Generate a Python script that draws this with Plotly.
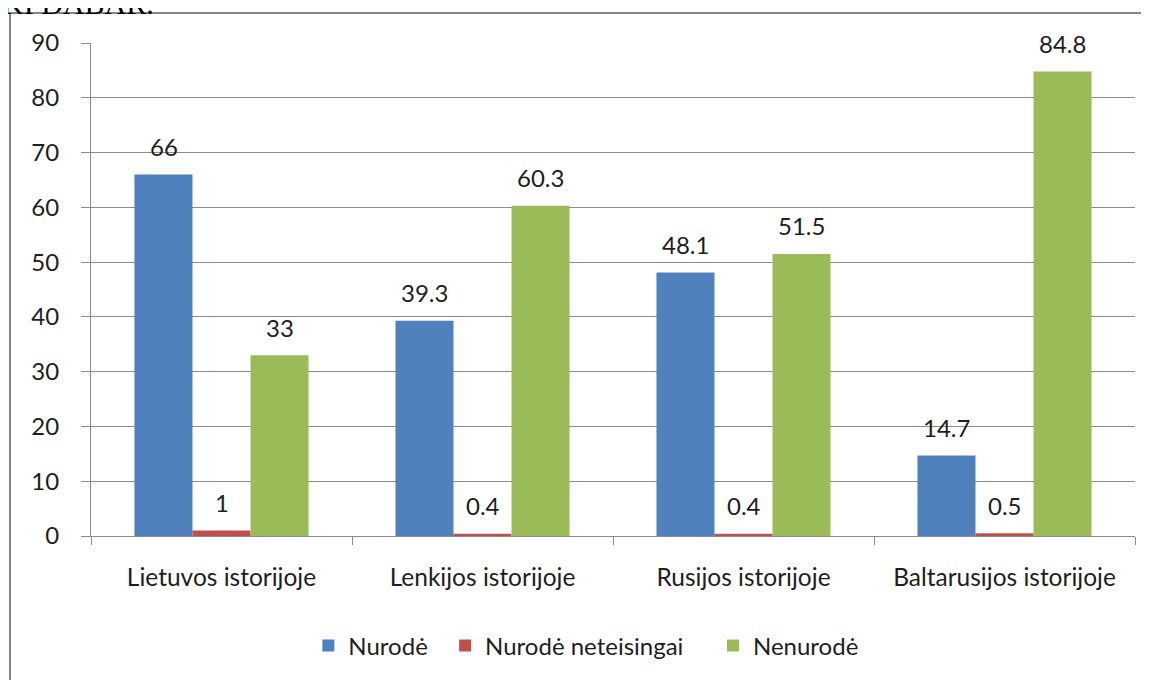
import plotly.graph_objects as go

categories = ["Lietuvos istorijoje", "Lenkijos istorijoje", "Rusijos istorijoje", "Baltarusijos istorijoje"]
nurode = [66, 39.3, 48.1, 14.7]
nurode_neteisingai = [1, 0.4, 0.4, 0.5]
nenurode = [33, 60.3, 51.5, 84.8]
y_ticks = [0, 10, 20, 30, 40, 50, 60, 70, 80, 90]

series = [
    ("Nurodė", nurode, "#4F81BD"),
    ("Nurodė neteisingai", nurode_neteisingai, "#C0504D"),
    ("Nenurodė", nenurode, "#9BBB59"),
]

FONT = "Lato, 'Open Sans', sans-serif"
TEXT = "#1e1e1e"
GRID = "#8C8C8C"
# widen gaps between legend entries
legend_pad = ["\u00a0\u00a0", "\u00a0\u00a0\u00a0\u00a0", ""]

fig = go.Figure()
for (name, vals, color), pad in zip(series, legend_pad):
    fig.add_trace(go.Bar(
        x=categories, y=vals, name=name + pad,
        marker=dict(color=color, line=dict(width=0)),
    ))

# data labels, shifted per series to sit over their own bar
bar_px = 58
for i, (name, vals, color) in enumerate(series):
    for cat, v in zip(categories, vals):
        fig.add_annotation(
            x=cat, y=v, text=f"{v:g}", showarrow=False,
            xshift=(i - 1) * bar_px, yshift=28, yanchor="middle",
            font=dict(family=FONT, size=24, color=TEXT),
        )

# clipped heading text above the chart
fig.add_annotation(
    x=-0.097, y=1.042, xref="paper", yref="paper",
    xanchor="left", yanchor="bottom", showarrow=False,
    text="IKI DABAR.",
    font=dict(family="Liberation Serif, serif", size=30, color="black"),
)

# chart frame
fig.add_shape(
    type="rect", xref="paper", yref="paper",
    x0=-0.0776, x1=1.0115, y0=-0.40, y1=1.0609,
    line=dict(color="#868686", width=2),
)

# the page body adds an 8px offset, margins are set with that in mind
fig.update_layout(
    width=1149, height=680,
    margin=dict(l=83, r=22, t=35, b=152, autoexpand=False),
    paper_bgcolor="white", plot_bgcolor="white",
    barmode="group", bargap=0.333, bargroupgap=0,
    font=dict(family=FONT, color=TEXT),
    showlegend=True,
    legend=dict(
        orientation="h", x=0.474, xanchor="center", y=-0.223, yanchor="middle",
        font=dict(family=FONT, size=24, color=TEXT),
        itemwidth=30, itemsizing="constant", traceorder="normal",
    ),
    xaxis=dict(
        automargin=False,
        showline=True, linecolor=GRID, linewidth=1,
        ticks="outside", tickson="boundaries", ticklen=8, tickcolor=GRID,
        tickfont=dict(family=FONT, size=24.5, color=TEXT),
        ticklabelstandoff=20,
    ),
    yaxis=dict(
        automargin=False,
        range=[0, 90], tickvals=y_ticks,
        showgrid=True, gridcolor=GRID, gridwidth=1,
        showline=True, linecolor=GRID, linewidth=1,
        ticks="outside", ticklen=9, tickcolor=GRID,
        tickfont=dict(family=FONT, size=24, color=TEXT),
        ticklabelstandoff=17, zeroline=False,
    ),
)

fig.write_html("out.html")
